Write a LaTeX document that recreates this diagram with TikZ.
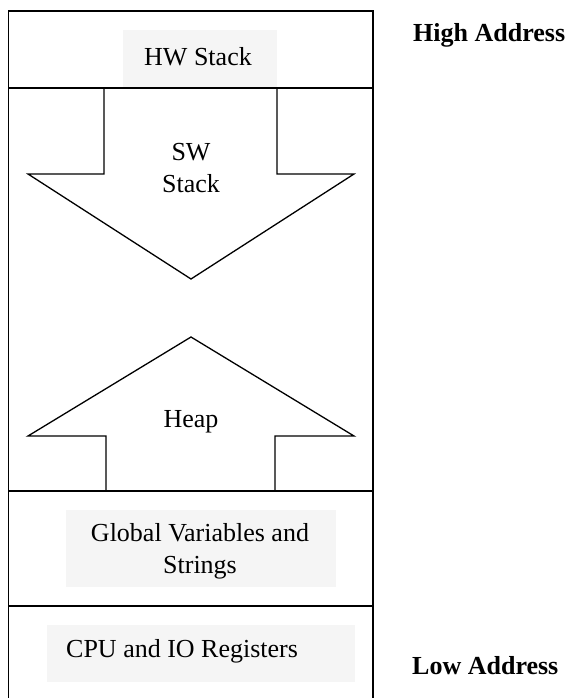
\documentclass[tikz,border=0pt]{standalone}
\usepackage{fontspec}
\setmainfont{Liberation Serif}
\begin{document}
\begin{tikzpicture}[x=1pt,y=-1pt,
  frame/.style={line width=1.6pt},
  arrowshape/.style={line width=1.3pt, line join=miter},
  label/.style={font=\fontsize{26}{31}\selectfont, inner sep=0pt, align=center},
  addr/.style={font=\fontsize{26}{31}\selectfont\bfseries, inner sep=0pt, anchor=west},
  graybox/.style={fill=black!4, draw=none}]
\useasboundingbox (0,0) rectangle (570,698);
% outer frame
\draw[frame] (8.5,698) -- (8.5,11) -- (373,11) -- (373,698);
\draw[frame] (8.5,88) -- (373,88);
\draw[frame] (8.5,491) -- (373,491);
\draw[frame] (8.5,606) -- (373,606);
% gray text boxes
\fill[graybox] (123,30) rectangle (277,87);
\fill[graybox] (66,510) rectangle (336,587);
\fill[graybox] (47,625) rectangle (355,682);
% SW stack arrow
\draw[arrowshape] (104,88) -- (104,174) -- (28,174) -- (191,279) -- (354,174) -- (277,174) -- (277,88);
% Heap arrow
\draw[arrowshape] (106,491) -- (106,436) -- (28,436) -- (191,337) -- (354,436) -- (275,436) -- (275,491);
% texts
\node[label] (hw) at (198,57) {HW Stack};
\node[label] (sw) at (191,168) {SW\\[1pt]Stack};
\node[label] (heap) at (191,422) {Heap};
\node[label] (glob) at (200,551) {Global Variables and\\[1pt]Strings};
\node[label, anchor=west] (cpu) at (66,651) {CPU and IO Registers};
\node[addr] (high) at (413,35) {High Address};
\node[addr] (low) at (412,666) {Low Address};
\end{tikzpicture}
\end{document}
